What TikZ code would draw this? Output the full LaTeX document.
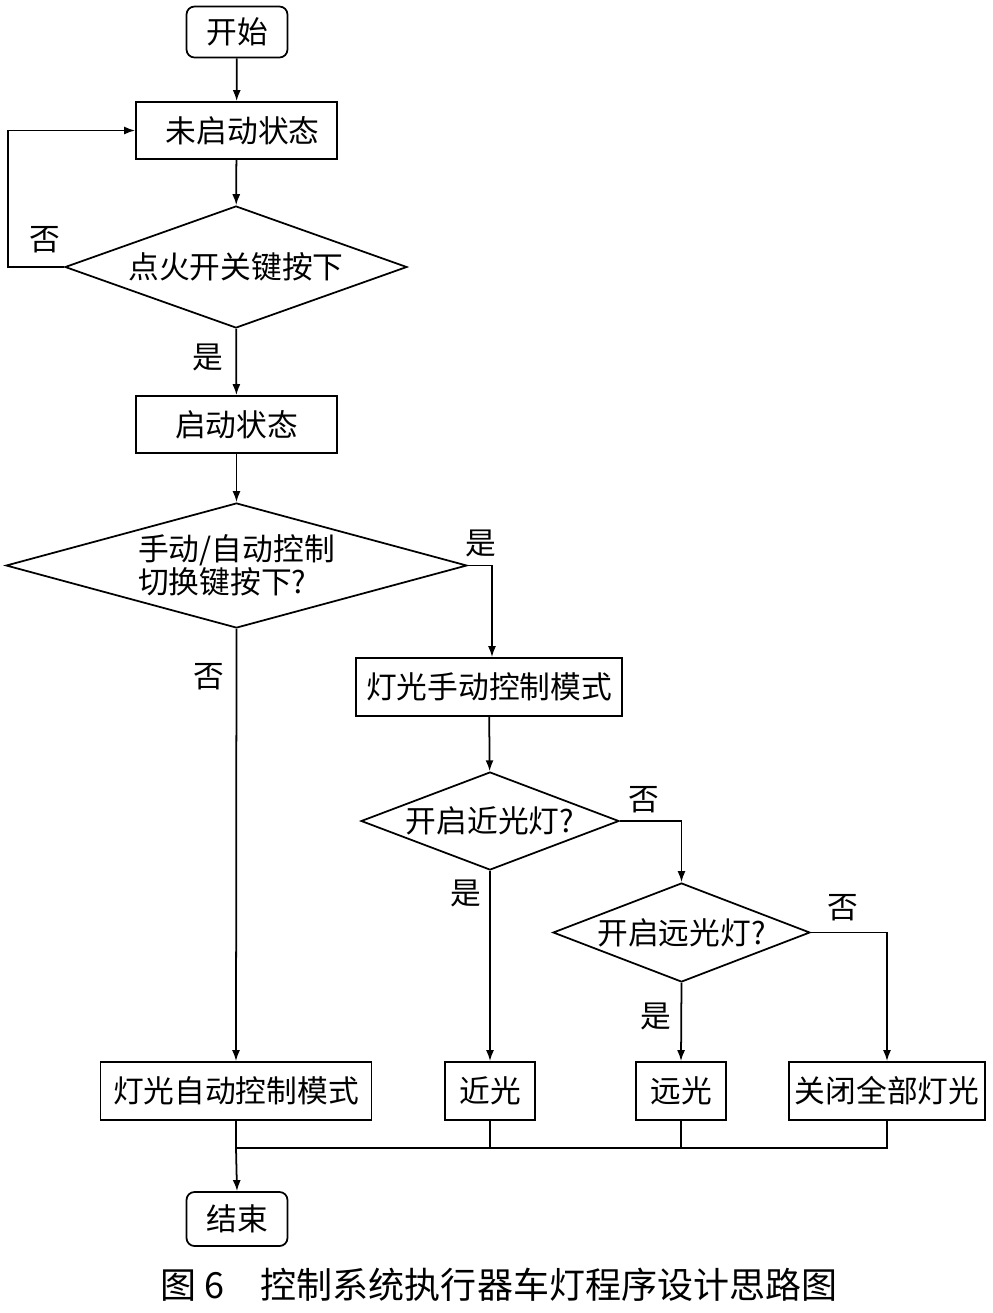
\documentclass[tikz,border=0pt]{standalone}
\usepackage{fontspec}
\setmainfont{Noto Sans CJK SC}
\usetikzlibrary{shapes.geometric,arrows.meta}
\begin{document}
\begin{tikzpicture}[x=0.02cm,y=-0.02cm,
  every node/.style={font=\fontsize{17.5}{18.8}\selectfont},
  box/.style={draw,line width=1pt,inner sep=0pt},
  rbox/.style={box,rounded corners=0.16cm},
  dec/.style={draw,line width=1pt,shape=diamond,inner sep=0pt},
  lbl/.style={inner sep=0pt},
  arr/.style={-{Latex[length=2.2mm,width=1.6mm]},line width=1pt},
  ln/.style={line width=1pt}]
\useasboundingbox (0,0) rectangle (992,1313);

\node[rbox,minimum width=2.02cm,minimum height=1.02cm] (start) at (237,32) {开始};
\node[box,minimum width=4.02cm,minimum height=1.14cm] (s0) at (236.5,130.5) {\hspace{0.25cm}未启动状态};
\node[dec,shape aspect=2.8,minimum width=6.84cm,minimum height=2.44cm] (d1) at (236,267) {点火开关键按下};
\node[box,minimum width=4.02cm,minimum height=1.14cm] (s1) at (236.5,424.5) {启动状态};
\node[dec,shape aspect=3.69,minimum width=9.22cm,minimum height=2.5cm,align=left] (d2) at (236.5,565.5) {手动/自动控制\\切换键按下?};
\node[box,minimum width=5.32cm,minimum height=1.16cm] (man) at (489,687) {灯光手动控制模式};
\node[dec,shape aspect=2.63,minimum width=5.16cm,minimum height=1.96cm] (d3) at (490,821) {开启近光灯?};
\node[dec,shape aspect=2.6,minimum width=5.14cm,minimum height=1.98cm] (d4) at (681.5,932.5) {开启远光灯?};
\node[box,minimum width=5.42cm,minimum height=1.16cm] (auto) at (236,1091) {灯光自动控制模式};
\node[box,minimum width=1.8cm,minimum height=1.16cm] (near) at (490,1091) {近光};
\node[box,minimum width=1.8cm,minimum height=1.16cm] (far) at (681,1091) {远光};
\node[box,minimum width=3.92cm,minimum height=1.16cm] (off) at (887,1091) {关闭全部灯光};
\node[rbox,minimum width=2.02cm,minimum height=1.08cm] (end) at (237,1219) {结束};

\draw[arr] (start) -- (s0);
\draw[arr] (s0) -- (d1);
\draw[arr] (d1.west) -- ++(-56,0) |- (s0.west);
\draw[arr] (d1) -- (s1);
\draw[arr] (s1) -- (d2);
\draw[arr] (d2.east) -| (man.north -| 492,0);
\draw[arr] (d2.south) -- (auto.north);
\draw[arr] (man) -- (d3);
\draw[arr] (d3.east) -| (d4.north);
\draw[arr] (d4.east) -| (off.north);
\draw[arr] (d3.south) -- (near.north);
\draw[arr] (d4.south) -- (far.north);

\coordinate (bus) at (236,1148);
\draw[ln] (auto.south) -- (bus);
\draw[ln] (off.south) |- (bus);
\draw[ln] (near.south) -- (near.south |- bus);
\draw[ln] (far.south) -- (far.south |- bus);
\draw[arr] (bus) -- (end.north);

\node[lbl] (l1) at (45,240) {否};
\node[lbl] (l2) at (208,357) {是};
\node[lbl] (l3) at (481,543) {是};
\node[lbl] (l4) at (209,677) {否};
\node[lbl] (l5) at (644,800) {否};
\node[lbl] (l6) at (466,893) {是};
\node[lbl] (l7) at (843,908) {否};
\node[lbl] (l8) at (656,1016) {是};

\node[lbl,font=\fontsize{20.5}{24}\selectfont] (cap) at (499,1285) {图 6\hspace{1em}控制系统执行器车灯程序设计思路图};
\end{tikzpicture}
\end{document}
